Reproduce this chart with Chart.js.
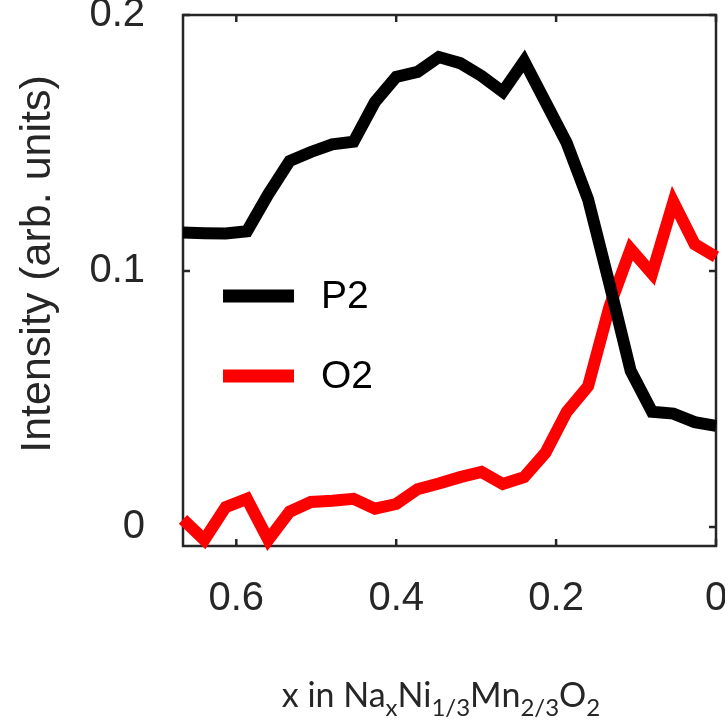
<!DOCTYPE html>
<html>
<head>
<meta charset="utf-8">
<script src="https://cdn.jsdelivr.net/npm/chart.js@4/dist/chart.umd.min.js"></script>
<style>
  html, body { margin: 0; padding: 0; background: #ffffff; }
  #wrap { width: 725px; height: 721px; }
</style>
</head>
<body>
<div id="wrap"><canvas id="lineChart" width="725" height="721"></canvas></div>
<script>
// sodium content x, runs from 2/3 down to 0
const xValues = [0.6667, 0.64, 0.6133, 0.5867, 0.56, 0.5333, 0.5067, 0.48, 0.4533, 0.4267,
                 0.4, 0.3733, 0.3467, 0.32, 0.2933, 0.2667, 0.24, 0.2133, 0.1867, 0.16,
                 0.1333, 0.1067, 0.08, 0.0533, 0.0267, 0];

const p2Values = [0.115, 0.1148, 0.1147, 0.1155, 0.130, 0.143, 0.1465, 0.1495, 0.1505, 0.166,
                  0.1758, 0.1778, 0.1836, 0.1812, 0.1762, 0.170, 0.182, 0.166, 0.150, 0.128,
                  0.095, 0.061, 0.045, 0.0443, 0.041, 0.0395];

const o2Values = [0.003, -0.005, 0.0078, 0.011, -0.005, 0.006, 0.0098, 0.0103, 0.011, 0.0072,
                  0.009, 0.0148, 0.017, 0.0195, 0.0215, 0.0168, 0.0195, 0.029, 0.045, 0.055,
                  0.086, 0.1086, 0.099, 0.127, 0.1105, 0.1055];

const xTicks = [0.6, 0.4, 0.2, 0];
const yTicks = [0, 0.1, 0.2];
const seriesNames = ['P2', 'O2'];
const seriesColors = ['#000000', '#ff0000'];

const yTitle = 'Intensity (arb. units)';
// x title pieces: [text, isSubscript]
const xTitleParts = [['x in Na', false], ['x', true], ['Ni', false], ['1/3', true],
                     ['Mn', false], ['2/3', true], ['O', false], ['2', true]];

const axisColor = '#262626';
const axisFont = 'Liberation Sans, Arial, sans-serif';

function points(ys) {
  return xValues.map((x, i) => ({ x: x, y: ys[i] }));
}

// keep the plot box where it is, labels are allowed to hang over the edges
function fixScale(s, size) {
  if (s.isHorizontal()) s.height = size; else s.width = size;
  s.paddingLeft = s.paddingRight = s.paddingTop = s.paddingBottom = 0;
}

// box frame, inward ticks, legend and axis titles
const frameAndLabels = {
  id: 'frameAndLabels',
  beforeDatasetsDraw(chart) {
    const { ctx, chartArea: a, scales: { x, y } } = chart;
    ctx.save();
    ctx.strokeStyle = axisColor;
    ctx.lineWidth = 2.5;
    ctx.strokeRect(a.left, a.top, a.right - a.left, a.bottom - a.top);
    ctx.beginPath();
    xTicks.forEach(v => {
      const px = x.getPixelForValue(v);
      ctx.moveTo(px, a.bottom); ctx.lineTo(px, a.bottom - 7);
      ctx.moveTo(px, a.top); ctx.lineTo(px, a.top + 7);
    });
    yTicks.forEach(v => {
      const py = y.getPixelForValue(v);
      ctx.moveTo(a.left, py); ctx.lineTo(a.left + 7, py);
      ctx.moveTo(a.right, py); ctx.lineTo(a.right - 7, py);
    });
    ctx.stroke();
    ctx.restore();
  },
  afterDraw(chart) {
    const { ctx, chartArea: a } = chart;
    ctx.save();

    // legend inside the plot
    const rows = [a.top + 281, a.top + 361];
    chart.data.datasets.forEach((ds, i) => {
      ctx.strokeStyle = ds.borderColor;
      ctx.lineWidth = 13;
      ctx.lineCap = 'butt';
      ctx.beginPath();
      ctx.moveTo(a.left + 40, rows[i]);
      ctx.lineTo(a.left + 111, rows[i]);
      ctx.stroke();
      ctx.fillStyle = '#000000';
      ctx.font = '39px ' + axisFont;
      ctx.textAlign = 'left';
      ctx.textBaseline = 'middle';
      ctx.fillText(ds.label, a.left + 138, rows[i] + 1);
    });

    // y axis title
    ctx.save();
    ctx.translate(38, 264);
    ctx.rotate(-Math.PI / 2);
    ctx.fillStyle = axisColor;
    ctx.font = '43px ' + axisFont;
    ctx.textAlign = 'center';
    ctx.textBaseline = 'middle';
    ctx.fillText(yTitle, 0, 0);
    ctx.restore();

    // x axis title with subscripts
    const mainFont = '34px Lato, sans-serif';
    const subFont = '24px Lato, sans-serif';
    let total = 0;
    xTitleParts.forEach(([t, sub]) => {
      ctx.font = sub ? subFont : mainFont;
      total += ctx.measureText(t).width;
    });
    let cx = 441 - total / 2;
    const base = 707;
    ctx.fillStyle = axisColor;
    ctx.textAlign = 'left';
    ctx.textBaseline = 'alphabetic';
    xTitleParts.forEach(([t, sub]) => {
      ctx.font = sub ? subFont : mainFont;
      ctx.fillText(t, cx, sub ? base + 9 : base);
      cx += ctx.measureText(t).width;
    });
    ctx.restore();
  }
};

new Chart(document.getElementById('lineChart').getContext('2d'), {
  type: 'line',
  data: {
    datasets: [
      { label: seriesNames[0], data: points(p2Values), borderColor: seriesColors[0] },
      { label: seriesNames[1], data: points(o2Values), borderColor: seriesColors[1] }
    ].map(ds => Object.assign(ds, {
      borderWidth: 12,
      borderJoinStyle: 'miter',
      borderCapStyle: 'butt',
      pointRadius: 0,
      fill: false,
      tension: 0,
      clip: false
    }))
  },
  options: {
    responsive: false,
    devicePixelRatio: 1,
    animation: false,
    layout: { padding: { top: 15, right: 9, left: 0, bottom: 0 } },
    plugins: {
      legend: { display: false },
      tooltip: { enabled: false }
    },
    scales: {
      x: {
        type: 'linear',
        reverse: true,
        min: 0,
        max: 2 / 3,
        afterBuildTicks: s => { s.ticks = xTicks.map(v => ({ value: v })); },
        afterFit: s => fixScale(s, 175),
        grid: { display: false, drawTicks: false },
        border: { display: false },
        ticks: {
          color: axisColor,
          padding: 29,
          maxRotation: 0,
          font: { family: axisFont, size: 40 },
          callback: v => String(v)
        }
      },
      y: {
        type: 'linear',
        min: -0.0074,
        max: 0.2,
        afterBuildTicks: s => { s.ticks = yTicks.map(v => ({ value: v })); },
        afterFit: s => fixScale(s, 183),
        grid: { display: false, drawTicks: false },
        border: { display: false },
        ticks: {
          color: axisColor,
          padding: 38,
          font: { family: axisFont, size: 40 },
          callback: v => String(v)
        }
      }
    }
  },
  plugins: [frameAndLabels]
});
</script>
</body>
</html>
